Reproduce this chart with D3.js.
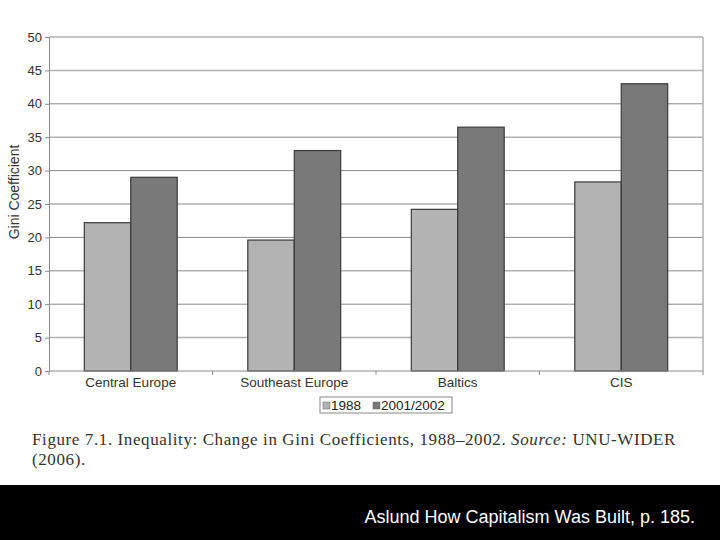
<!DOCTYPE html>
<html>
<head>
<meta charset="utf-8">
<script src="https://cdn.jsdelivr.net/npm/d3@7"></script>
<style>
  body { margin: 0; background: #fff; }
  svg { display: block; }
</style>
</head>
<body>
<svg class="chart"></svg>
<script>
// data
var regions = ["Central Europe", "Southeast Europe", "Baltics", "CIS"];
var seriesNames = ["1988", "2001/2002"];
var gini1988 = [22.2, 19.6, 24.2, 28.3];
var gini2001 = [29.0, 33.0, 36.5, 43.0];
var yTicks = [0, 5, 10, 15, 20, 25, 30, 35, 40, 45, 50];
var barColors = ["#b3b3b3", "#797979"];

var width = 720, height = 540;
var plot = { left: 49, right: 703, top: 37, bottom: 371 };

var svg = d3.select(".chart")
	.attr("width", width)
	.attr("height", height);

var x0 = d3.scaleBand()
	.domain(regions)
	.range([plot.left, plot.right])
	.paddingInner(0)
	.paddingOuter(0);

var x1 = d3.scaleBand()
	.domain(seriesNames)
	.range([0, x0.bandwidth()])
	.paddingInner(0)
	.paddingOuter(0.76);

var y = d3.scaleLinear()
	.domain([0, 50])
	.range([plot.bottom, plot.top]);

// gridlines
svg.append("g")
	.selectAll("line")
	.data(yTicks.slice(1))
	.enter().append("line")
	.attr("x1", plot.left)
	.attr("x2", plot.right)
	.attr("y1", function(d) { return y(d); })
	.attr("y2", function(d) { return y(d); })
	.attr("stroke", function(d, i) { return i % 2 ? "#8a8a8a" : "#b0b0b0"; })
	.attr("stroke-width", function(d, i) { return i % 2 ? 1 : 1.5; });

// right border
svg.append("line")
	.attr("x1", plot.right).attr("x2", plot.right)
	.attr("y1", plot.top).attr("y2", plot.bottom)
	.attr("stroke", "#b0b0b0")
	.attr("stroke-width", 1.5);

// bars
var rows = regions.map(function(r, i) {
	return { region: r, values: [
		{ key: seriesNames[0], value: gini1988[i] },
		{ key: seriesNames[1], value: gini2001[i] }
	] };
});

svg.append("g")
	.selectAll("g")
	.data(rows)
	.enter().append("g")
	.attr("transform", function(d) { return "translate(" + x0(d.region) + ",0)"; })
	.selectAll("rect")
	.data(function(d) { return d.values; })
	.enter().append("rect")
	.attr("x", function(d) { return x1(d.key); })
	.attr("y", function(d) { return y(d.value); })
	.attr("width", x1.bandwidth())
	.attr("height", function(d) { return plot.bottom - y(d.value); })
	.attr("fill", function(d, i) { return barColors[i]; })
	.attr("stroke", "#3a3a3a")
	.attr("stroke-width", 1.2);

// y axis
var yAxis = svg.append("g")
	.attr("transform", "translate(" + plot.left + ",0)")
	.call(d3.axisLeft(y).tickValues(yTicks).tickSize(4).tickPadding(3));
yAxis.select(".domain").attr("stroke", "#8a8a8a");
yAxis.selectAll(".tick line").attr("stroke", "#8a8a8a");
yAxis.selectAll("text")
	.attr("font-family", "Liberation Sans, Arial, sans-serif")
	.attr("font-size", 13)
	.attr("fill", "#333");

// x axis
var boundaries = regions.map(function(r) { return x0(r); }).concat([plot.right]);
svg.append("line")
	.attr("x1", plot.left).attr("x2", plot.right)
	.attr("y1", plot.bottom).attr("y2", plot.bottom)
	.attr("stroke", "#8a8a8a");
svg.append("g")
	.selectAll("line")
	.data(boundaries)
	.enter().append("line")
	.attr("x1", function(d) { return d; })
	.attr("x2", function(d) { return d; })
	.attr("y1", plot.bottom)
	.attr("y2", plot.bottom + 4)
	.attr("stroke", "#8a8a8a");

svg.append("g")
	.selectAll("text")
	.data(regions)
	.enter().append("text")
	.attr("x", function(d) { return x0(d) + x0.bandwidth() / 2; })
	.attr("y", 387)
	.attr("text-anchor", "middle")
	.attr("font-family", "Liberation Sans, Arial, sans-serif")
	.attr("font-size", 13.5)
	.attr("fill", "#333")
	.text(function(d) { return d; });

svg.append("text")
	.attr("transform", "translate(19," + 192 + ") rotate(-90)")
	.attr("text-anchor", "middle")
	.attr("font-family", "Liberation Sans, Arial, sans-serif")
	.attr("font-size", 14)
	.attr("fill", "#333")
	.text("Gini Coefficient");

// legend
var legend = svg.append("g").attr("transform", "translate(320,397)");
legend.append("rect")
	.attr("width", 132).attr("height", 16)
	.attr("fill", "#fff")
	.attr("stroke", "#888");
var legendX = [3, 53];
seriesNames.forEach(function(s, i) {
	legend.append("rect")
		.attr("x", legendX[i]).attr("y", 5)
		.attr("width", 7).attr("height", 7)
		.attr("fill", barColors[i])
		.attr("stroke", "#666")
		.attr("stroke-width", 0.5);
	legend.append("text")
		.attr("x", legendX[i] + 8).attr("y", 13)
		.attr("font-family", "Liberation Sans, Arial, sans-serif")
		.attr("font-size", 13.5)
		.attr("fill", "#222")
		.text(s);
});

// caption
var caption = svg.append("text")
	.attr("x", 32).attr("y", 445)
	.attr("font-family", "Liberation Serif, Times New Roman, serif")
	.attr("font-size", 17)
	.attr("letter-spacing", 0.6)
	.attr("fill", "#333");
caption.append("tspan").text("Figure 7.1.  Inequality: Change in Gini Coefficients, 1988\u20132002. ");
caption.append("tspan").attr("font-style", "italic").text("Source:");
caption.append("tspan").text("  UNU-WIDER");
svg.append("text")
	.attr("x", 32).attr("y", 465)
	.attr("font-family", "Liberation Serif, Times New Roman, serif")
	.attr("font-size", 17)
	.attr("letter-spacing", 0.6)
	.attr("fill", "#333")
	.text("(2006).");

// black footer band
svg.append("rect")
	.attr("x", 0).attr("y", 485)
	.attr("width", width).attr("height", height - 485)
	.attr("fill", "#000");
svg.append("text")
	.attr("x", 695).attr("y", 523)
	.attr("text-anchor", "end")
	.attr("font-family", "Liberation Sans, Arial, sans-serif")
	.attr("font-size", 18)
	.attr("fill", "#fff")
	.text("Aslund How Capitalism Was Built, p. 185.");
</script>
</body>
</html>
